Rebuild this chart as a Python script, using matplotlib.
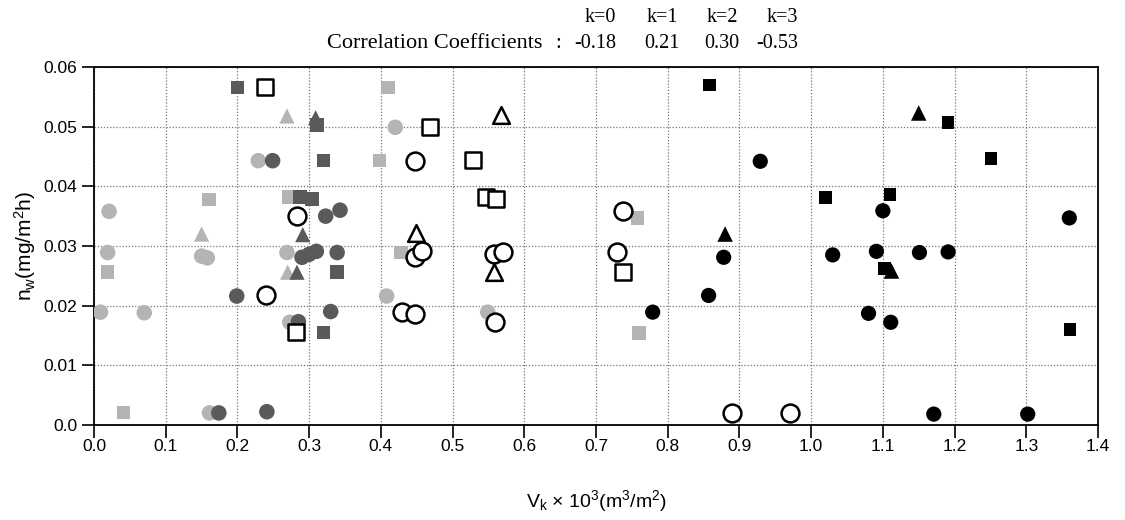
import matplotlib
matplotlib.use("Agg")
import matplotlib.pyplot as plt

# ---- data ----
# k=0 (light gray)
k0_circ_x = [0.021, 0.019, 0.009, 0.070, 0.150, 0.158, 0.229, 0.269, 0.273, 0.161, 0.420, 0.408, 0.549]
k0_circ_y = [0.0358, 0.0289, 0.0189, 0.0188, 0.0283, 0.0280, 0.0443, 0.0289, 0.0172, 0.0020, 0.0499, 0.0216, 0.0189]
k0_sq_x = [0.019, 0.041, 0.160, 0.271, 0.410, 0.398, 0.428, 0.758, 0.760]
k0_sq_y = [0.0256, 0.0021, 0.0378, 0.0382, 0.0566, 0.0443, 0.0289, 0.0347, 0.0154]
k0_tri_x = [0.269, 0.150, 0.270]
k0_tri_y = [0.0518, 0.0320, 0.0256]

# k=1 (dark gray)
k1_circ_x = [0.249, 0.323, 0.343, 0.290, 0.300, 0.310, 0.339, 0.199, 0.330, 0.285, 0.174, 0.241]
k1_circ_y = [0.0443, 0.0350, 0.0360, 0.0281, 0.0286, 0.0291, 0.0289, 0.0216, 0.0190, 0.0173, 0.0020, 0.0022]
k1_sq_x = [0.200, 0.311, 0.320, 0.287, 0.304, 0.339, 0.320]
k1_sq_y = [0.0566, 0.0503, 0.0443, 0.0382, 0.0379, 0.0256, 0.0155]
k1_tri_x = [0.309, 0.291, 0.283]
k1_tri_y = [0.0515, 0.0319, 0.0256]

# k=2 (open)
k2_circ_x = [0.283, 0.240, 0.448, 0.448, 0.458, 0.558, 0.570, 0.429, 0.448, 0.559, 0.737, 0.729, 0.890, 0.970]
k2_circ_y = [0.0350, 0.0217, 0.0443, 0.0282, 0.0291, 0.0286, 0.0290, 0.0189, 0.0186, 0.0172, 0.0358, 0.0290, 0.0020, 0.0020]
k2_sq_x = [0.239, 0.469, 0.529, 0.547, 0.561, 0.281, 0.738]
k2_sq_y = [0.0566, 0.0500, 0.0444, 0.0382, 0.0379, 0.0156, 0.0256]
k2_tri_x = [0.567, 0.449, 0.558]
k2_tri_y = [0.0519, 0.0321, 0.0257]

# k=3 (black)
k3_circ_x = [0.929, 1.100, 0.878, 1.030, 1.091, 0.857, 0.779, 1.080, 1.111, 1.360, 1.151, 1.191, 1.171, 1.302]
k3_circ_y = [0.0442, 0.0359, 0.0281, 0.0285, 0.0291, 0.0217, 0.0189, 0.0187, 0.0172, 0.0347, 0.0289, 0.0290, 0.0018, 0.0018]
k3_sq_x = [0.858, 1.020, 1.110, 1.191, 1.251, 1.102, 1.361]
k3_sq_y = [0.0570, 0.0381, 0.0386, 0.0507, 0.0447, 0.0262, 0.0160]
k3_tri_x = [0.880, 1.150, 1.112]
k3_tri_y = [0.0320, 0.0523, 0.0258]

corr_labels = ["k=0", "k=1", "k=2", "k=3"]
corr_values = ["-0.18", "0.21", "0.30", "-0.53"]

x_ticks = [0.0, 0.1, 0.2, 0.3, 0.4, 0.5, 0.6, 0.7, 0.8, 0.9, 1.0, 1.1, 1.2, 1.3, 1.4]
y_ticks = [0.0, 0.01, 0.02, 0.03, 0.04, 0.05, 0.06]
y_tick_labels = ["0.0", "0.01", "0.02", "0.03", "0.04", "0.05", "0.06"]

plt.rcParams['font.family'] = ['Liberation Sans', 'DejaVu Sans']
plt.rcParams['mathtext.fontset'] = 'custom'
plt.rcParams['mathtext.rm'] = 'Liberation Sans'
plt.rcParams['mathtext.it'] = 'Liberation Sans'

fig = plt.figure(figsize=(11.25, 5.20), dpi=100)
ax = fig.add_axes([0.0836, 0.183, 0.8924, 0.688])

# grid
ax.grid(True, linestyle=(0, (1, 1.5)), color='#777777', linewidth=0.9)
ax.set_axisbelow(True)

light = '#b4b4b4'
dark = '#5a5a5a'

def filled(xs, ys, marker, color, s):
    ax.scatter(xs, ys, marker=marker, s=s, facecolors=color, edgecolors='none', zorder=3)

# k=0
filled(k0_circ_x, k0_circ_y, 'o', light, 125)
filled(k0_sq_x, k0_sq_y, 's', light, 95)
filled(k0_tri_x, k0_tri_y, '^', light, 120)
# k=1
filled(k1_circ_x, k1_circ_y, 'o', dark, 125)
filled(k1_sq_x, k1_sq_y, 's', dark, 95)
filled(k1_tri_x, k1_tri_y, '^', dark, 120)
# k=2 open
ax.scatter(k2_circ_x, k2_circ_y, marker='o', s=165, facecolors='white', edgecolors='black', linewidths=1.8, zorder=4)
ax.scatter(k2_sq_x, k2_sq_y, marker='s', s=125, facecolors='white', edgecolors='black', linewidths=1.8, zorder=4)
ax.scatter(k2_tri_x, k2_tri_y, marker='^', s=145, facecolors='white', edgecolors='black', linewidths=1.8, zorder=4)
# k=3 black
filled(k3_circ_x, k3_circ_y, 'o', 'black', 120)
filled(k3_sq_x, k3_sq_y, 's', 'black', 80)
filled(k3_tri_x, k3_tri_y, '^', 'black', 125)

ax.set_xlim(0.0, 1.4)
ax.set_ylim(0.0, 0.06)
ax.set_xticks(x_ticks)
ax.set_xticklabels([f"{v:.1f}" for v in x_ticks])
ax.set_yticks(y_ticks)
ax.set_yticklabels(y_tick_labels)
ax.tick_params(axis='both', direction='out', length=9, width=1.2, labelsize=12.5, pad=3)
ax.tick_params(axis='x', pad=1.5)
for sp in ax.spines.values():
    sp.set_linewidth(1.3)

ax.set_ylabel("n$_\\mathregular{w}$(mg/m$^\\mathregular{2}$h)", fontsize=15, labelpad=4)
ax.set_xlabel("V$_\\mathregular{k}$ \u00d7 10$^\\mathregular{3}$(m$^\\mathregular{3}$/m$^\\mathregular{2}$)", fontsize=14, labelpad=24)

# correlation header
serif = ['Liberation Serif', 'DejaVu Serif']
fig.text(435 / 1125, 1 - 44 / 520, "Correlation Coefficients", family=serif, fontsize=16, ha='center', va='center')
fig.text(558 / 1125, 1 - 44 / 520, ":", family=serif, fontsize=15, ha='center', va='center')
k_xs = [600, 662, 722, 782]
for lab, val, px in zip(corr_labels, corr_values, k_xs):
    fig.text(px / 1125, 1 - 17 / 520, lab, family=serif, fontsize=14.5, ha='center', va='center')
    fig.text((px - 5 if val.startswith('-') else px) / 1125, 1 - 44 / 520, val, family=serif, fontsize=14.5, ha='center', va='center')

fig.savefig("out.png", dpi=100)
